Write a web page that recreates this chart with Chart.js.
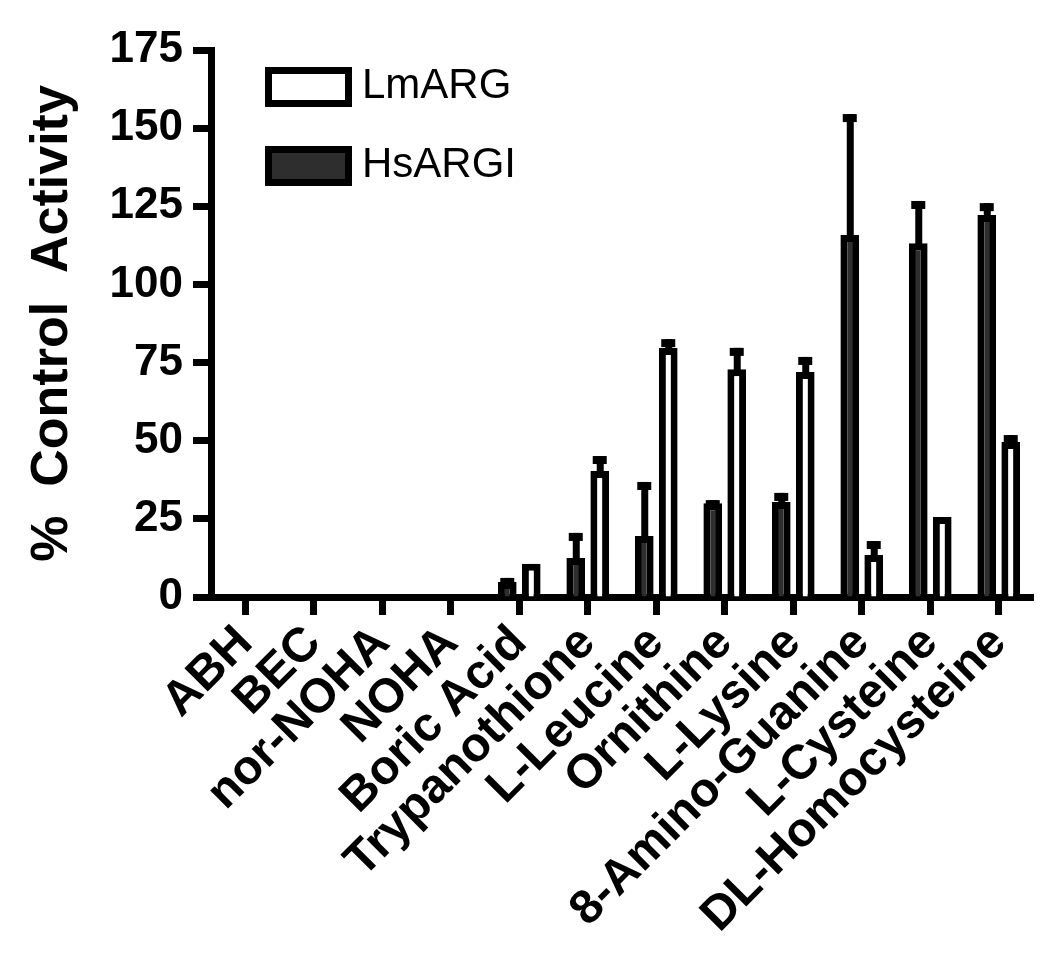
<!DOCTYPE html>
<html>
<head>
<meta charset="utf-8">
<script src="https://cdn.jsdelivr.net/npm/chart.js@4.4.1/dist/chart.umd.min.js"></script>
<style>
html,body{margin:0;padding:0;background:#fff;}
#wrap{width:1050px;height:976px;position:relative;}
</style>
</head>
<body>
<div id="wrap"><canvas id="c" width="1050" height="976"></canvas></div>
<script>
const categories = ['ABH','BEC','nor-NOHA','NOHA','Boric Acid','Trypanothione','L-Leucine','Ornithine','L-Lysine','8-Amino-Guanine','L-Cysteine','DL-Homocysteine'];
const hsValues = [0,0,0,0,4.8,12.5,19.5,30,30.4,115.8,113.2,122.2];
const hsErrors = [0,0,0,0,1.3,8,17.3,1,2.9,38.7,13.5,3.8];
const lmValues = [0,0,0,0,10.6,40.3,79.7,72.9,72,13.4,25.6,49.6];
const lmErrors = [0,0,0,0,0,4.8,2.8,6.8,4.8,4.5,0,2.2];
const yTicks = [0,25,50,75,100,125,150,175];
const seriesNames = ['HsARGI','LmARG'];
const legendOrder = ['LmARG','HsARGI'];

const FONT = "'Liberation Sans', Arial, Helvetica, sans-serif";
const DARK = '#2e2e2e';

const errorBars = {
  id: 'errorBars',
  afterDatasetsDraw(chart) {
    const ctx = chart.ctx, y = chart.scales.y;
    chart.data.datasets.forEach((ds, i) => {
      const meta = chart.getDatasetMeta(i);
      meta.data.forEach((bar, j) => {
        const e = ds.errors[j];
        if (!e) return;
        const top = y.getPixelForValue(ds.data[j] + e);
        ctx.save();
        ctx.fillStyle = '#000';
        ctx.fillRect(bar.x - 3, top, 7, bar.y - top + 2);
        ctx.fillRect(bar.x - 7, top, 14, 8);
        ctx.restore();
      });
    });
  }
};

const innerLegend = {
  id: 'innerLegend',
  afterDraw(chart) {
    const ctx = chart.ctx, a = chart.chartArea;
    const x0 = a.left + 54, y0 = a.top + 17;
    legendOrder.forEach((name, k) => {
      const ds = chart.data.datasets.find(d => d.label === name);
      const by = y0 + k * 79;
      ctx.save();
      ctx.fillStyle = '#000';
      ctx.fillRect(x0, by, 87, 40);
      ctx.fillStyle = ds.backgroundColor;
      ctx.fillRect(x0 + 7, by + 7, 73, 26);
      ctx.fillStyle = '#000';
      ctx.font = '42px ' + FONT;
      ctx.textBaseline = 'middle';
      ctx.textAlign = 'left';
      ctx.fillText(name, x0 + 97, by + 19);
      ctx.restore();
    });
  }
};

new Chart(document.getElementById('c'), {
  type: 'bar',
  data: {
    labels: categories,
    datasets: [
      { label: seriesNames[0], data: hsValues, errors: hsErrors, backgroundColor: DARK, borderColor: '#000', borderWidth: 7, borderSkipped: 'start' },
      { label: seriesNames[1], data: lmValues, errors: lmErrors, backgroundColor: '#ffffff', borderColor: '#000', borderWidth: 7, borderSkipped: 'start' }
    ]
  },
  options: {
    responsive: false,
    animation: false,
    devicePixelRatio: 1,
    layout: { padding: { left: 0, right: 17, top: 50, bottom: 0 } },
    datasets: { bar: { categoryPercentage: 0.70, barPercentage: 0.78 } },
    plugins: { legend: { display: false }, tooltip: { enabled: false } },
    scales: {
      x: {
        offset: true,
        grid: { display: true, drawOnChartArea: false, drawTicks: true, tickLength: 18, tickWidth: 7, tickColor: '#000', offset: false },
        border: { display: true, width: 7, color: '#000' },
        ticks: { autoSkip: false, minRotation: 45, maxRotation: 45, color: '#000', padding: 0, font: { family: FONT, size: 48, weight: 'bold' } },
        afterFit(s) { s.height = 379; }
      },
      y: {
        min: 0, max: 175,
        afterBuildTicks(s) { s.ticks = yTicks.map(v => ({ value: v })); },
        grid: { display: true, drawOnChartArea: false, drawTicks: true, tickLength: 18, tickWidth: 7, tickColor: '#000' },
        border: { display: true, width: 7, color: '#000' },
        ticks: { color: '#000', padding: 10, font: { family: FONT, size: 44, weight: 'bold' } },
        title: { display: true, text: '%  Control  Activity', color: '#000', padding: { top: 21, bottom: 0 }, font: { family: FONT, size: 52, weight: 'bold' } },
        afterFit(s) { s.width = 211; }
      }
    }
  },
  plugins: [errorBars, innerLegend]
});
</script>
</body>
</html>
